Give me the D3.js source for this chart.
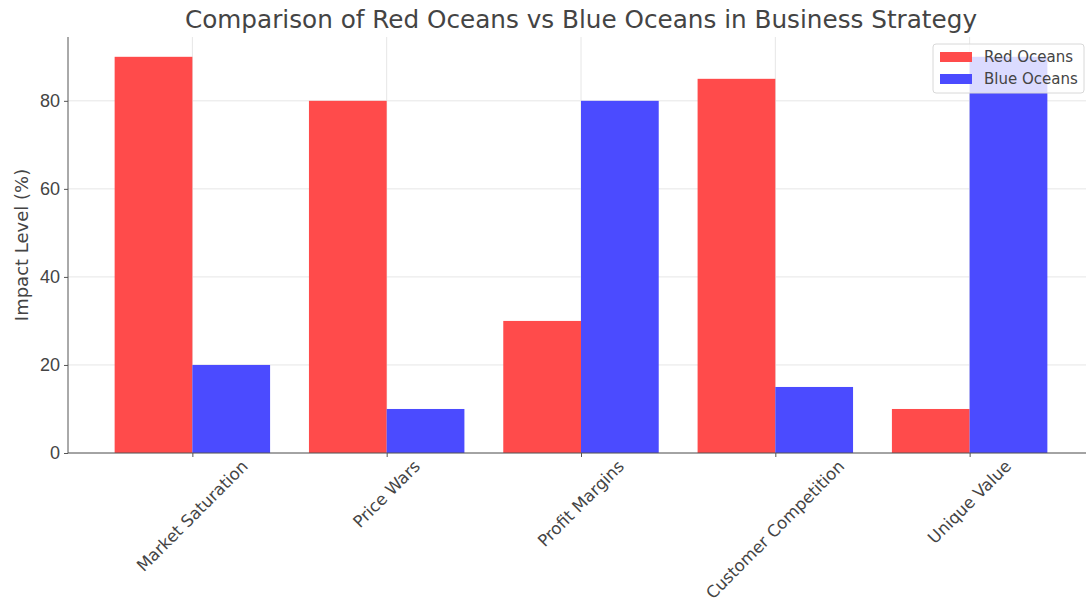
<!DOCTYPE html>
<html>
<head>
<meta charset="utf-8">
<script src="https://cdn.jsdelivr.net/npm/d3@7"></script>
<style>
  html, body { margin: 0; padding: 0; background: #fff; }
  svg { display: block; font-family: "DejaVu Sans", sans-serif; }
</style>
</head>
<body>
<svg id="chart" width="1086" height="607"></svg>
<script>
// Data
const categories = ["Market Saturation", "Price Wars", "Profit Margins", "Customer Competition", "Unique Value"];
const redOceans = [90, 80, 30, 85, 10];
const blueOceans = [20, 10, 80, 15, 90];
const seriesNames = ["Red Oceans", "Blue Oceans"];
const yTicks = [0, 20, 40, 60, 80];

const colors = ["#ff4b4b", "#4b4bff"];
const textColor = "#444";

const svg = d3.select("#chart");
const plot = { left: 68, right: 1094, top: 37, bottom: 453 };

// x: numeric position per category index, bars 0.4 wide each side of center
const x = d3.scaleLinear().domain([-0.64, categories.length - 1 + 0.64]).range([plot.left, plot.right]);
const y = d3.scaleLinear().domain([0, 94.5]).range([plot.bottom, plot.top]);
const barW = 0.4;

// Grid
const grid = svg.append("g");
grid.selectAll("line.h").data(yTicks).join("line")
  .attr("x1", plot.left).attr("x2", plot.right)
  .attr("y1", d => y(d)).attr("y2", d => y(d))
  .attr("stroke", "#e6e6e6").attr("stroke-width", 1);
grid.selectAll("line.v").data(categories).join("line")
  .attr("x1", (d, i) => x(i)).attr("x2", (d, i) => x(i))
  .attr("y1", plot.top).attr("y2", plot.bottom)
  .attr("stroke", "#e6e6e6").attr("stroke-width", 1);

// Bars
const series = [redOceans, blueOceans];
series.forEach((vals, s) => {
  svg.append("g").selectAll("rect").data(vals).join("rect")
    .attr("x", (d, i) => x(i - barW + s * barW))
    .attr("width", (d, i) => x(i + s * barW) - x(i - barW + s * barW))
    .attr("y", d => y(d))
    .attr("height", d => y(0) - y(d))
    .attr("fill", colors[s]);
});

// Y axis
const yAxis = svg.append("g")
  .attr("transform", `translate(${plot.left},0)`)
  .call(d3.axisLeft(y).tickValues(yTicks).tickSize(4).tickPadding(4).tickSizeOuter(0));
yAxis.select(".domain").attr("stroke", "#555").attr("d", `M0,${plot.top}V${plot.bottom}`);
yAxis.selectAll(".tick line").attr("stroke", "#555");
yAxis.selectAll(".tick text").attr("fill", textColor).style("font-size", "18px");

// X axis
const xAxis = svg.append("g")
  .attr("transform", `translate(0,${plot.bottom})`)
  .call(d3.axisBottom(x).tickValues(d3.range(categories.length)).tickFormat(() => "").tickSize(4).tickSizeOuter(0));
xAxis.select(".domain").attr("stroke", "#555").attr("d", `M${plot.left},0H${plot.right}`);
xAxis.selectAll(".tick line").attr("stroke", "#555");

// Rotated category labels, bounding box centered under each tick
const fs = 16.6;
const labels = svg.append("g").selectAll("text").data(categories).join("text")
  .text(d => d)
  .attr("fill", textColor)
  .style("font-size", fs + "px")
  .attr("text-anchor", "middle")
  .attr("dominant-baseline", "central");
labels.each(function(d, i) {
  const len = this.getComputedTextLength();
  const half = (len * Math.SQRT1_2 + fs * 1.1 * Math.SQRT1_2) / 2;
  d3.select(this).attr("transform", `translate(${x(i)},${plot.bottom + 4 + half}) rotate(-45)`);
});

// Y label
svg.append("text")
  .attr("transform", `translate(21,${(plot.top + plot.bottom) / 2}) rotate(-90)`)
  .attr("text-anchor", "middle")
  .attr("dominant-baseline", "central")
  .attr("fill", textColor)
  .style("font-size", "18px")
  .text("Impact Level (%)");

// Title
svg.append("text")
  .attr("x", 581).attr("y", 28)
  .attr("text-anchor", "middle")
  .attr("fill", textColor)
  .style("font-size", "24.7px")
  .text("Comparison of Red Oceans vs Blue Oceans in Business Strategy");

// Legend
const lg = svg.append("g").attr("transform", "translate(933,44)");
lg.append("rect").attr("width", 151).attr("height", 49).attr("rx", 3)
  .attr("fill", "#fff").attr("fill-opacity", 0.8)
  .attr("stroke", "#d8d8d8");
seriesNames.forEach((n, i) => {
  lg.append("rect").attr("x", 7).attr("y", 8 + i * 22).attr("width", 32).attr("height", 10).attr("fill", colors[i]);
  lg.append("text").attr("x", 51).attr("y", 13 + i * 22)
    .attr("dominant-baseline", "central")
    .attr("fill", textColor).style("font-size", "15px").text(n);
});
</script>
</body>
</html>
